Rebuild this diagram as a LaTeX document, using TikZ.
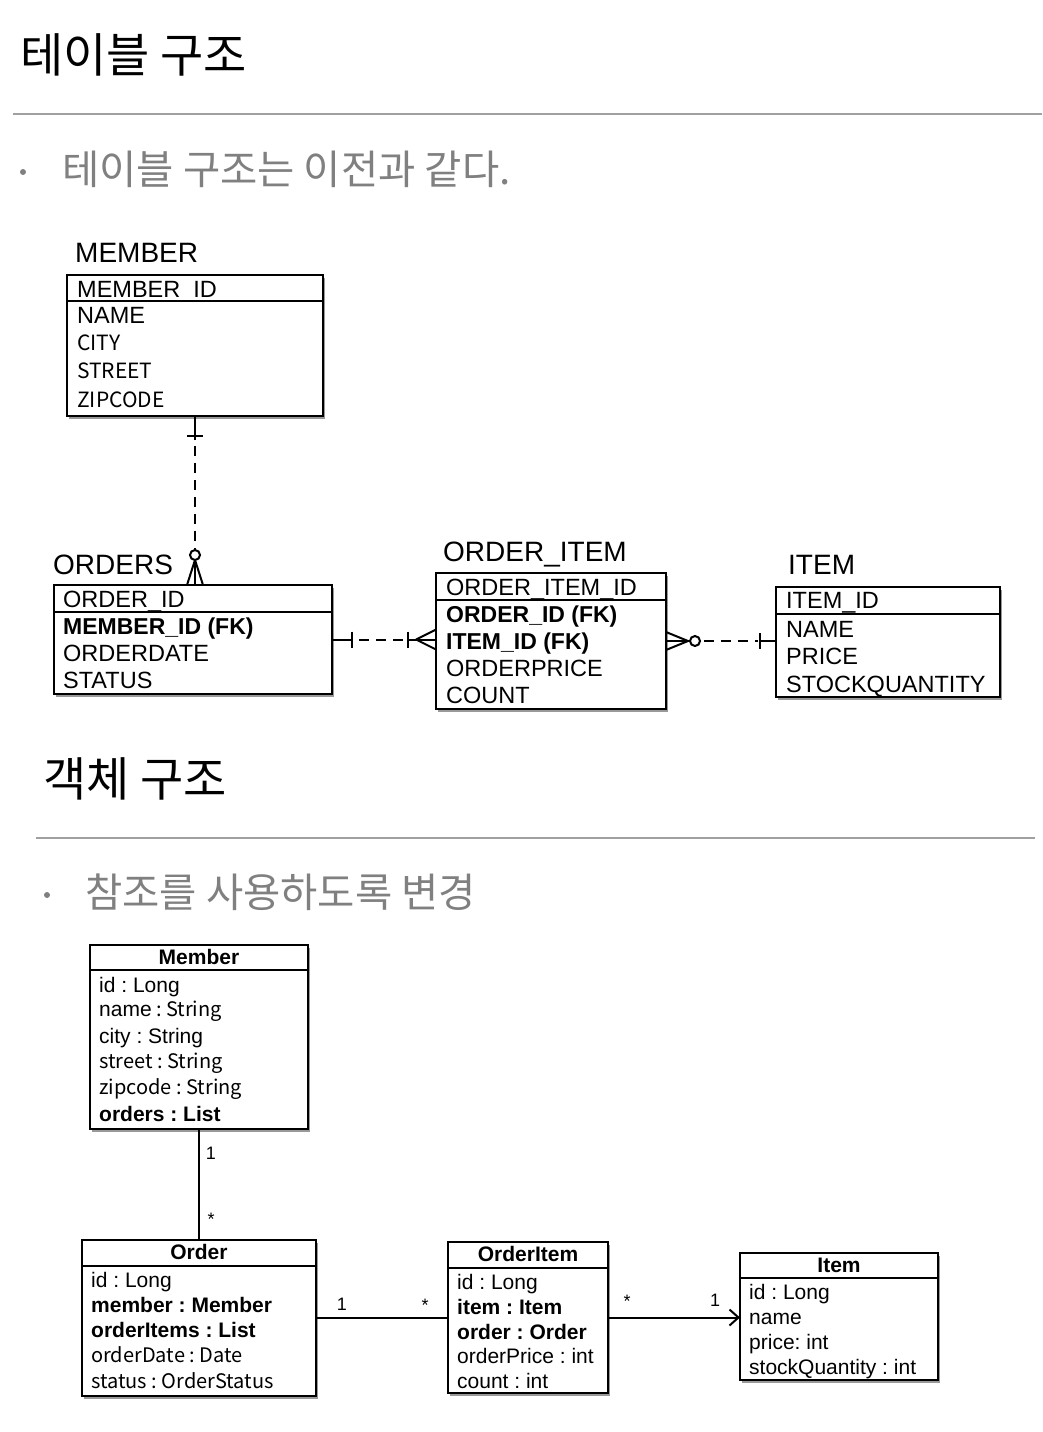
\documentclass[tikz,border=0pt]{standalone}
\usepackage{fontspec}
\setmainfont{Liberation Sans}
\newfontfamily\cjk{Noto Sans CJK KR}
\usetikzlibrary{shadows,arrows.meta,calc}
\definecolor{subgray}{RGB}{128,128,128}
\definecolor{rulegray}{RGB}{160,160,160}
\frenchspacing
\begin{document}
\begin{tikzpicture}[x=1pt,y=-1pt,
  lw/.style={line width=2pt},
  dsh/.style={line width=2pt,dash pattern=on 10pt off 7pt},
  box/.style={draw,line width=2pt,fill=white,anchor=north west,inner sep=0pt,outer sep=0pt,
    drop shadow={shadow xshift=1.5pt,shadow yshift=-2.5pt,opacity=0.4,fill=black}},
  title/.style={anchor=base west,inner sep=0pt,font=\cjk\fontsize{47}{56}\selectfont},
  sub/.style={anchor=base west,inner sep=0pt,font=\cjk\fontsize{40.5}{50}\selectfont,text=subgray},
  bul/.style={circle,fill=subgray,inner sep=0pt,minimum size=6pt},
  erlabel/.style={anchor=base west,inner sep=0pt,font=\fontsize{28}{32}\selectfont},
  errow/.style={anchor=base west,inner sep=0pt,font=\fontsize{23.5}{27}\selectfont},
  erbold/.style={anchor=base west,inner sep=0pt,font=\bfseries\fontsize{23}{27}\selectfont},
  errowk/.style={anchor=base west,inner sep=0pt,font=\cjk\fontsize{21}{25}\selectfont},
  clrow/.style={anchor=base west,inner sep=0pt,font=\fontsize{21}{25}\selectfont},
  clrowk/.style={anchor=base west,inner sep=0pt,font=\cjk\fontsize{20}{24}\selectfont},
  cltitle/.style={anchor=base,inner sep=0pt,font=\bfseries\fontsize{21}{25}\selectfont},
  mult/.style={anchor=center,inner sep=0pt,font=\fontsize{18}{20}\selectfont}]
\fill[white] (0,0) rectangle (1042,1432);
\useasboundingbox (0,0) rectangle (1042,1432);

% ---------- headings ----------
\node[title] (t1) at (20,72) {테이블 구조};
\coordinate (r1a) at (13,114); \coordinate (r1b) at (1042,114);
\draw[rulegray,line width=1.3pt] (r1a) -- (r1b);
\node[bul] (b1) at (23,172) {};
\node[sub] (s1) at (62,184) {테이블 구조는 이전과 같다.};

\node[title] (t2) at (43,796) {객체 구조};
\coordinate (r2a) at (36,838); \coordinate (r2b) at (1035,838);
\draw[rulegray,line width=1.3pt] (r2a) -- (r2b);
\node[bul] (b2) at (47,895) {};
\node[sub] (s2) at (85,907) {참조를 사용하도록 변경};

% ---------- ER: MEMBER ----------
\node[erlabel] (lmember) at (75,262) {MEMBER};
\node[box,minimum width=256pt,minimum height=141pt] (member) at (67,275) {};
\draw[lw] (member.west |- 0,301) -- (member.east |- 0,301);
\node[errow] (m1) at (77,297) {MEMBER\_ID};
\node[errow] (m2) at (77,323) {NAME};
\node[errowk] (m3) at (77,350) {CITY};
\node[errowk] (m4) at (77,378) {STREET};
\node[errowk] (m5) at (77,407) {ZIPCODE};

% ---------- ER: ORDERS ----------
\node[erlabel] (lorders) at (53,574) {ORDERS};
\node[box,minimum width=278pt,minimum height=109pt] (orders) at (54,585) {};
\draw[lw] (orders.west |- 0,612) -- (orders.east |- 0,612);
\node[errow] (o1) at (63,607) {ORDER\_ID};
\node[erbold] (o2) at (63,634) {MEMBER\_ID (FK)};
\node[errow] (o3) at (63,661) {ORDERDATE};
\node[errow] (o4) at (63,688) {STATUS};

% ---------- ER: ORDER_ITEM ----------
\node[erlabel] (loitem) at (443,561) {ORDER\_ITEM};
\node[box,minimum width=230pt,minimum height=136pt] (oitem) at (436,573) {};
\draw[lw] (oitem.west |- 0,600) -- (oitem.east |- 0,600);
\node[errow] (oi1) at (446,595) {ORDER\_ITEM\_ID};
\node[erbold] (oi2) at (446,622) {ORDER\_ID (FK)};
\node[erbold] (oi3) at (446,649) {ITEM\_ID (FK)};
\node[errow] (oi4) at (446,676) {ORDERPRICE};
\node[errow] (oi5) at (446,703) {COUNT};

% ---------- ER: ITEM ----------
\node[erlabel] (litem) at (788,574) {ITEM};
\node[box,minimum width=224pt,minimum height=110pt] (item) at (776,587) {};
\draw[lw] (item.west |- 0,614) -- (item.east |- 0,614);
\node[errow] (i1) at (786,608) {ITEM\_ID};
\node[errow] (i2) at (786,637) {NAME};
\node[errow] (i3) at (786,664) {PRICE};
\node[errow] (i4) at (786,692) {STOCKQUANTITY};

% ---------- ER connectors ----------
% MEMBER -- ORDERS
\coordinate (ca) at (member.south);
\coordinate (cb) at (orders.north -| member.south);
\draw[lw] (ca) -- ($(ca)+(0,24)$);
\draw[lw] ($(ca)+(-8,20)$) -- ($(ca)+(8,20)$);
\draw[dsh] ($(ca)+(0,30)$) -- ($(cb)+(0,-35)$);
\draw[lw] ($(cb)+(0,-30)$) circle (5);
\draw[lw] ($(cb)+(0,-25)$) -- ($(cb)+(-8,0)$);
\draw[lw] ($(cb)+(0,-25)$) -- (cb);
\draw[lw] ($(cb)+(0,-25)$) -- ($(cb)+(8,0)$);
% ORDERS -- ORDER_ITEM
\coordinate (cc) at (orders.east);
\coordinate (cd) at (oitem.west |- orders.east);
\draw[lw] (cc) -- ($(cc)+(20,0)$);
\draw[lw] ($(cc)+(20,-8)$) -- ($(cc)+(20,8)$);
\draw[dsh] ($(cc)+(27,0)$) -- ($(cd)+(-30,0)$);
\draw[lw] ($(cd)+(-28,-8)$) -- ($(cd)+(-28,8)$);
\draw[lw] ($(cd)+(-28,0)$) -- (cd);
\draw[lw] ($(cd)+(-20,0)$) -- ($(cd)+(0,-10)$);
\draw[lw] ($(cd)+(-20,0)$) -- ($(cd)+(0,10)$);
% ORDER_ITEM -- ITEM
\coordinate (ce) at (oitem.east);
\coordinate (cf) at (item.west |- oitem.east);
\draw[lw] (ce) -- ($(ce)+(22,0)$);
\draw[lw] ($(ce)+(0,-9)$) -- ($(ce)+(22,0)$) -- ($(ce)+(0,9)$);
\draw[lw] ($(ce)+(29,0)$) circle (5);
\draw[dsh] ($(ce)+(38,0)$) -- ($(cf)+(-18,0)$);
\draw[lw] ($(cf)+(-16,-8)$) -- ($(cf)+(-16,8)$);
\draw[lw] ($(cf)+(-16,0)$) -- (cf);

% ---------- Class: Member ----------
\node[box,minimum width=218pt,minimum height=184pt] (cmember) at (90,945) {};
\draw[lw] (cmember.west |- 0,970) -- (cmember.east |- 0,970);
\node[cltitle] (cmt) at (199,964) {Member};
\node[clrow] (cm1) at (99,992) {id : Long};
\node[clrow] (cm2) at (99,1016) {name{\cjk\fontsize{20}{24}\selectfont\ : String}};
\node[clrow] (cm3) at (99,1043) {city : String};
\node[clrowk] (cm4) at (99,1068) {street : String};
\node[clrowk] (cm5) at (99,1094) {zipcode : String};
\node[clrow] (cm6) at (99,1121) {\textbf{orders : List}};

% ---------- Class: Order ----------
\node[box,minimum width=234pt,minimum height=156pt] (corder) at (82,1240) {};
\draw[lw] (corder.west |- 0,1266) -- (corder.east |- 0,1266);
\node[cltitle] (cot) at (199,1259) {Order};
\node[clrow] (co1) at (91,1287) {id : Long};
\node[clrow] (co2) at (91,1312) {\textbf{member : Member}};
\node[clrow] (co3) at (91,1337) {\textbf{orderItems : List}};
\node[clrowk] (co4) at (91,1362) {orderDate : Date};
\node[clrowk] (co5) at (91,1388) {status : OrderStatus};

% ---------- Class: OrderItem ----------
\node[box,minimum width=160pt,minimum height=151pt] (coitem) at (448,1242) {};
\draw[lw] (coitem.west |- 0,1268) -- (coitem.east |- 0,1268);
\node[cltitle] (coit) at (528,1261) {OrderItem};
\node[clrow] (coi1) at (457,1289) {id : Long};
\node[clrow] (coi2) at (457,1314) {\textbf{item : Item}};
\node[clrow] (coi3) at (457,1339) {\textbf{order : Order}};
\node[clrow] (coi4) at (457,1363) {orderPrice : int};
\node[clrow] (coi5) at (457,1388) {count : int};

% ---------- Class: Item ----------
\node[box,minimum width=198pt,minimum height=127pt] (citem) at (740,1253) {};
\draw[lw] (citem.west |- 0,1278) -- (citem.east |- 0,1278);
\node[cltitle] (cit) at (839,1272) {Item};
\node[clrow] (ci1) at (749,1299) {id : Long};
\node[clrow] (ci2) at (749,1324) {name};
\node[clrow] (ci3) at (749,1349) {price: int};
\node[clrow] (ci4) at (749,1374) {stockQuantity : int};

% ---------- Class connectors ----------
\draw[lw] (cmember.south) -- (cmember.south |- corder.north);
\node[mult] (mu1) at (211,1153) {1};
\node[mult] (mu2) at (211,1219) {*};
\draw[lw] (corder.east) -- (coitem.west |- corder.east);
\node[mult] (mu3) at (342,1304) {1};
\node[mult] (mu4) at (425,1305) {*};
\draw[lw,-{Straight Barb[length=9pt,width=16pt,line width=2pt]}] (coitem.east) -- (citem.west |- coitem.east);
\node[mult] (mu5) at (627,1301) {*};
\node[mult] (mu6) at (715,1300) {1};
\end{tikzpicture}
\end{document}
